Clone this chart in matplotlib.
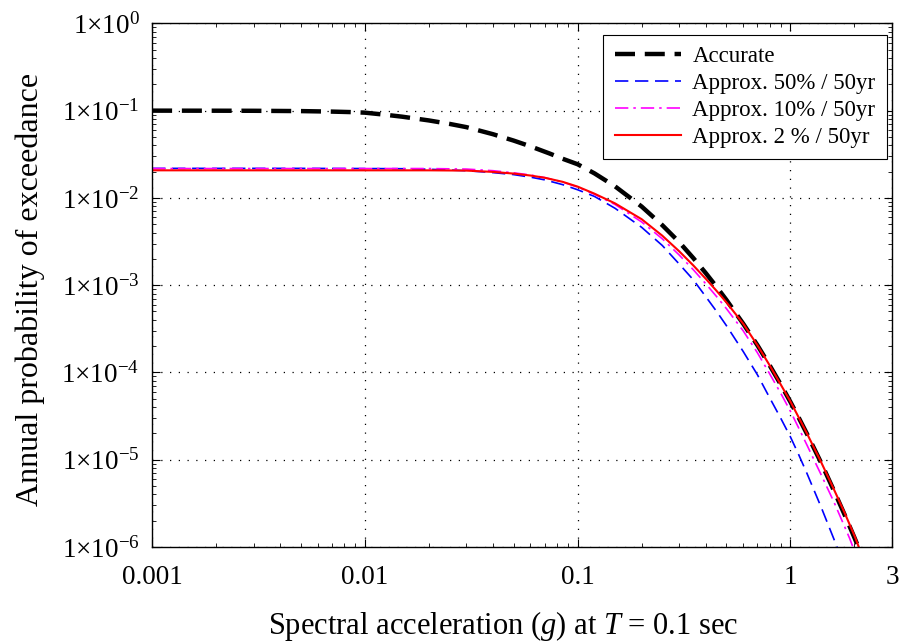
import numpy as np
import matplotlib
matplotlib.use("Agg")
import matplotlib.pyplot as plt

# spectral acceleration (g) sample points and annual exceedance probabilities
sa_accurate = [0.001, 0.002, 0.003, 0.005, 0.007, 0.0085, 0.01, 0.0125, 0.015, 0.02, 0.025,
               0.03, 0.04, 0.05, 0.06, 0.074, 0.085, 0.1, 0.12, 0.15, 0.2, 0.25, 0.3, 0.35,
               0.4, 0.45, 0.5, 0.6, 0.7, 0.8, 0.9, 1.0, 1.1, 1.2, 1.4, 1.6, 1.8, 2.0, 2.1]
p_accurate = [0.1000, 0.0998, 0.0996, 0.0988, 0.0975, 0.0963, 0.0948, 0.0897, 0.0852, 0.0772,
              0.0705, 0.0647, 0.0537, 0.0454, 0.0390, 0.0322, 0.0281, 0.0243, 0.0191, 0.01355,
              0.00796, 0.00487, 0.00312, 0.00204, 0.001377, 9.56e-4, 6.79e-4, 3.62e-4,
              2.05e-4, 1.2e-4, 7.31e-5, 4.6e-5, 2.96e-5, 1.95e-5, 9.04e-6, 4.45e-6, 2.33e-6,
              1.28e-6, 9.6e-7]

sa_50 = [0.001, 0.005, 0.01, 0.015, 0.02, 0.03, 0.04, 0.05, 0.06, 0.07, 0.085, 0.1, 0.12,
         0.15, 0.2, 0.25, 0.3, 0.35, 0.4, 0.45, 0.5, 0.6, 0.7, 0.8, 0.9, 1.0, 1.1, 1.2,
         1.4, 1.6, 1.7]
p_50 = [0.0218, 0.0218, 0.0217, 0.0216, 0.0213, 0.0205, 0.0195, 0.0185, 0.0173, 0.0161,
        0.0142, 0.0124, 0.0104, 0.0076, 0.0046, 0.00285, 0.00175, 0.00115, 7.4e-4, 5.0e-4,
        3.45e-4, 1.74e-4, 9.4e-5, 5.1e-5, 3.0e-5, 1.83e-5, 1.11e-5, 6.85e-6, 2.8e-6,
        1.24e-6, 8.5e-7]

sa_10 = [0.001, 0.005, 0.01, 0.015, 0.02, 0.03, 0.04, 0.05, 0.06, 0.07, 0.085, 0.1, 0.12,
         0.15, 0.2, 0.25, 0.3, 0.35, 0.4, 0.45, 0.5, 0.6, 0.7, 0.8, 0.9, 1.0, 1.1, 1.2,
         1.4, 1.6, 1.8, 1.9, 2.0]
p_10 = [0.0217, 0.0217, 0.0217, 0.0217, 0.0217, 0.0214, 0.0205, 0.0194, 0.0183, 0.0171,
        0.0152, 0.0133, 0.0110, 0.0084, 0.0053, 0.0034, 0.00222, 0.00150, 0.00104, 7.4e-4,
        5.4e-4, 3.0e-4, 1.68e-4, 9.6e-5, 5.8e-5, 3.6e-5, 2.25e-5, 1.45e-5, 6.6e-6, 3.3e-6,
        1.7e-6, 1.25e-6, 9e-7]

sa_2 = [0.001, 0.005, 0.01, 0.015, 0.02, 0.03, 0.04, 0.05, 0.06, 0.07, 0.085, 0.1, 0.12,
        0.15, 0.2, 0.25, 0.3, 0.35, 0.4, 0.45, 0.5, 0.6, 0.7, 0.8, 0.9, 1.0, 1.1, 1.2,
        1.4, 1.6, 1.8, 2.0, 2.15]
p_2 = [0.0207, 0.0207, 0.0207, 0.0207, 0.0207, 0.02056, 0.01986, 0.0190, 0.01805, 0.01702,
       0.01529, 0.01347, 0.01118, 0.00865, 0.0057, 0.00369, 0.00245, 0.00168, 0.001186,
       8.6e-4, 6.37e-4, 3.62e-4, 2.05e-4, 1.2e-4, 7.3e-5, 4.65e-5, 2.98e-5, 1.97e-5,
       9.2e-6, 4.6e-6, 2.45e-6, 1.35e-6, 8.5e-7]

x_ticks = [0.001, 0.01, 0.1, 1, 3]
x_labels = ["0.001", "0.01", "0.1", "1", "3"]
y_exps = [0, -1, -2, -3, -4, -5, -6]

plt.rcParams["font.family"] = ["Liberation Serif", "DejaVu Serif"]
plt.rcParams["mathtext.fontset"] = "custom"
plt.rcParams["mathtext.rm"] = "Liberation Serif"
plt.rcParams["mathtext.it"] = "Liberation Serif:italic"

fig = plt.figure(figsize=(9, 6.42), dpi=100)
ax = fig.add_axes([0.169, 0.148, 0.822, 0.8156])

ax.plot(sa_accurate, p_accurate, color="black", lw=3.2, dashes=(4.5, 2.2), label="Accurate")
ax.plot(sa_50, p_50, color="#0000ff", lw=1.2, dashes=(8, 4), label="Approx. 50% / 50yr")
ax.plot(sa_10, p_10, color="#ff00ff", lw=1.2, dashes=(8, 3, 1.5, 3), label="Approx. 10% / 50yr")
ax.plot(sa_2, p_2, color="#ff0000", lw=1.5, label="Approx. 2 % / 50yr")

ax.set_xscale("log")
ax.set_yscale("log")
ax.set_xlim(0.001, 3)
ax.set_ylim(1e-6, 1)

ax.set_xticks(x_ticks)
ax.set_xticklabels(x_labels)
ax.set_yticks([10.0 ** e for e in y_exps])
ax.set_yticklabels([r"$\mathregular{1{\times}10^{%d}}$" % e for e in y_exps])
ax.tick_params(axis="both", which="both", direction="in", top=True, right=True)
ax.tick_params(axis="both", which="major", length=6, labelsize=19.5)
ax.tick_params(axis="x", which="major", pad=13)
ax.tick_params(axis="y", which="major", pad=9)
ax.tick_params(axis="both", which="minor", length=3)
ax.grid(True, which="major", linestyle=(0, (1, 6)), color="black", lw=0.9)

for s in ax.spines.values():
    s.set_linewidth(1.0)

ax.set_xlabel(r"Spectral acceleration ($g$) at $T$ = 0.1 sec", fontsize=22)
ax.xaxis.set_label_coords(0.474, -0.118)
ax.set_ylabel("Annual probability of exceedance", fontsize=23)
ax.yaxis.set_label_coords(-0.145, 0.491)

leg = ax.legend(loc="upper right", bbox_to_anchor=(0.9856, 0.9455),
                bbox_transform=fig.transFigure, borderaxespad=0,
                fontsize=16.5, handlelength=2.9, borderpad=0.5, labelspacing=0.25,
                handletextpad=0.5, fancybox=False, framealpha=1)
leg.get_frame().set_edgecolor("black")
leg.get_frame().set_linewidth(0.8)

fig.savefig("out.png", dpi=100)
